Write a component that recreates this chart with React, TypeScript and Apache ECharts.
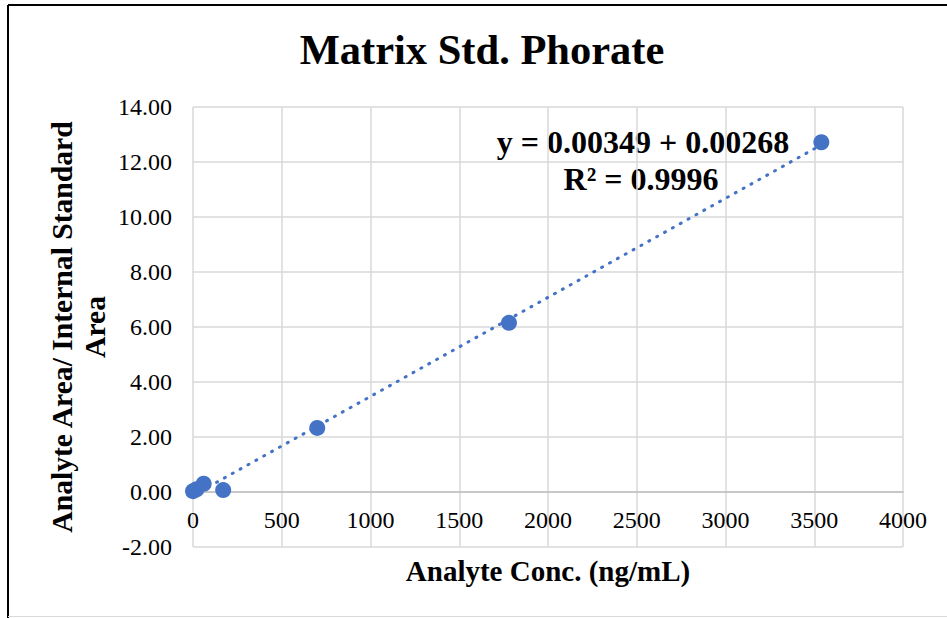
import React, { useEffect, useRef } from "react";
import * as echarts from "echarts";

const concentrations = [0, 20, 60, 170, 700, 1780, 3540];
const ratios = [0.03, 0.1, 0.3, 0.07, 2.33, 6.15, 12.72];
const titleText = "Matrix Std. Phorate";
const xAxisTitle = "Analyte Conc. (ng/mL)";
const yAxisTitle = "Analyte Area/ Internal Standard\nArea";
const equationLine1 = "y = 0.00349 + 0.00268";
const equationLine2 = "R² = 0.9996";

function linearFit(xs: number[], ys: number[]) {
  const n = xs.length;
  const mx = xs.reduce((a, b) => a + b, 0) / n;
  const my = ys.reduce((a, b) => a + b, 0) / n;
  let sxy = 0;
  let sxx = 0;
  for (let i = 0; i < n; i++) {
    sxy += (xs[i] - mx) * (ys[i] - my);
    sxx += (xs[i] - mx) * (xs[i] - mx);
  }
  const slope = sxy / sxx;
  return { slope, intercept: my - slope * mx };
}

export default function App() {
  const ref = useRef<HTMLDivElement>(null);
  useEffect(() => {
    document.body.style.margin = "0";
    if (!ref.current) return;
    const chart = echarts.init(ref.current, undefined, { renderer: "svg" });
    const fit = linearFit(concentrations, ratios);
    const xMin = Math.min(...concentrations);
    const xMax = Math.max(...concentrations);
    const trend = [
      [xMin, fit.intercept + fit.slope * xMin],
      [xMax, fit.intercept + fit.slope * xMax],
    ];
    const font = "Liberation Serif";
    chart.setOption({
      animation: false,
      backgroundColor: "#ffffff",
      textStyle: { fontFamily: font },
      title: {
        text: titleText,
        left: 477,
        textAlign: "center",
        top: 23,
        textStyle: { fontFamily: font, fontSize: 42.5, fontWeight: "bold", color: "#000" },
      },
      grid: { left: 193, right: 44, top: 107, bottom: 71, outerBoundsMode: "none", containLabel: false },
      xAxis: {
        type: "value",
        min: 0,
        max: 4000,
        interval: 500,
        position: "bottom",
        offset: -55,
        name: xAxisTitle,
        nameLocation: "middle",
        nameGap: 64,
        nameMoveOverlap: false,
        nameTextStyle: { fontFamily: font, fontSize: 29, fontWeight: "bold", color: "#000" },
        axisLine: { onZero: false, lineStyle: { color: "#bfbfbf", width: 1.5 } },
        axisTick: { show: false },
        axisLabel: { fontFamily: font, fontSize: 24, color: "#000", margin: 16, formatter: (v: number) => String(v) },
        splitLine: { show: true, lineStyle: { color: "#d9d9d9", width: 1.5 } },
      },
      yAxis: {
        type: "value",
        min: -2,
        max: 14,
        interval: 2,
        name: yAxisTitle,
        nameLocation: "middle",
        nameRotate: 90,
        nameGap: 82,
        nameMoveOverlap: false,
        nameTextStyle: { fontFamily: font, fontSize: 29.6, fontWeight: "bold", color: "#000", lineHeight: 33, align: "center" },
        axisLine: { show: false },
        axisTick: { show: false },
        axisLabel: {
          fontFamily: font,
          fontSize: 24,
          color: "#000",
          margin: 21,
          formatter: (v: number) => v.toFixed(2),
        },
        splitLine: { show: true, lineStyle: { color: "#d9d9d9", width: 1.5 } },
      },
      series: [
        {
          type: "line",
          data: trend,
          symbol: "none",
          lineStyle: { color: "#4472c4", width: 3, type: [1, 8], cap: "round" },
          z: 2,
        },
        {
          type: "scatter",
          data: concentrations.map((c, i) => [c, ratios[i]]),
          symbol: "circle",
          symbolSize: 16,
          itemStyle: { color: "#4472c4", opacity: 1 },
          z: 3,
        },
      ],
      graphic: [
        { type: "line", shape: { x1: 8, y1: 5, x2: 947, y2: 5 }, style: { stroke: "#000", lineWidth: 2 } },
        { type: "line", shape: { x1: 8, y1: 5, x2: 8, y2: 618 }, style: { stroke: "#000", lineWidth: 2 } },
        { type: "line", shape: { x1: 8, y1: 616.5, x2: 947, y2: 616.5 }, style: { stroke: "#d9d9d9", lineWidth: 1 } },
        {
          type: "text",
          x: 643,
          y: 142,
          style: { text: equationLine1, font: `bold 32px ${font}`, fill: "#000", align: "center", verticalAlign: "middle" },
        },
        {
          type: "text",
          x: 641,
          y: 179,
          style: { text: equationLine2, font: `bold 32px ${font}`, fill: "#000", align: "center", verticalAlign: "middle" },
        },
      ],
    });
    return () => chart.dispose();
  }, []);
  return <div ref={ref} style={{ width: 947, height: 618 }} />;
}
